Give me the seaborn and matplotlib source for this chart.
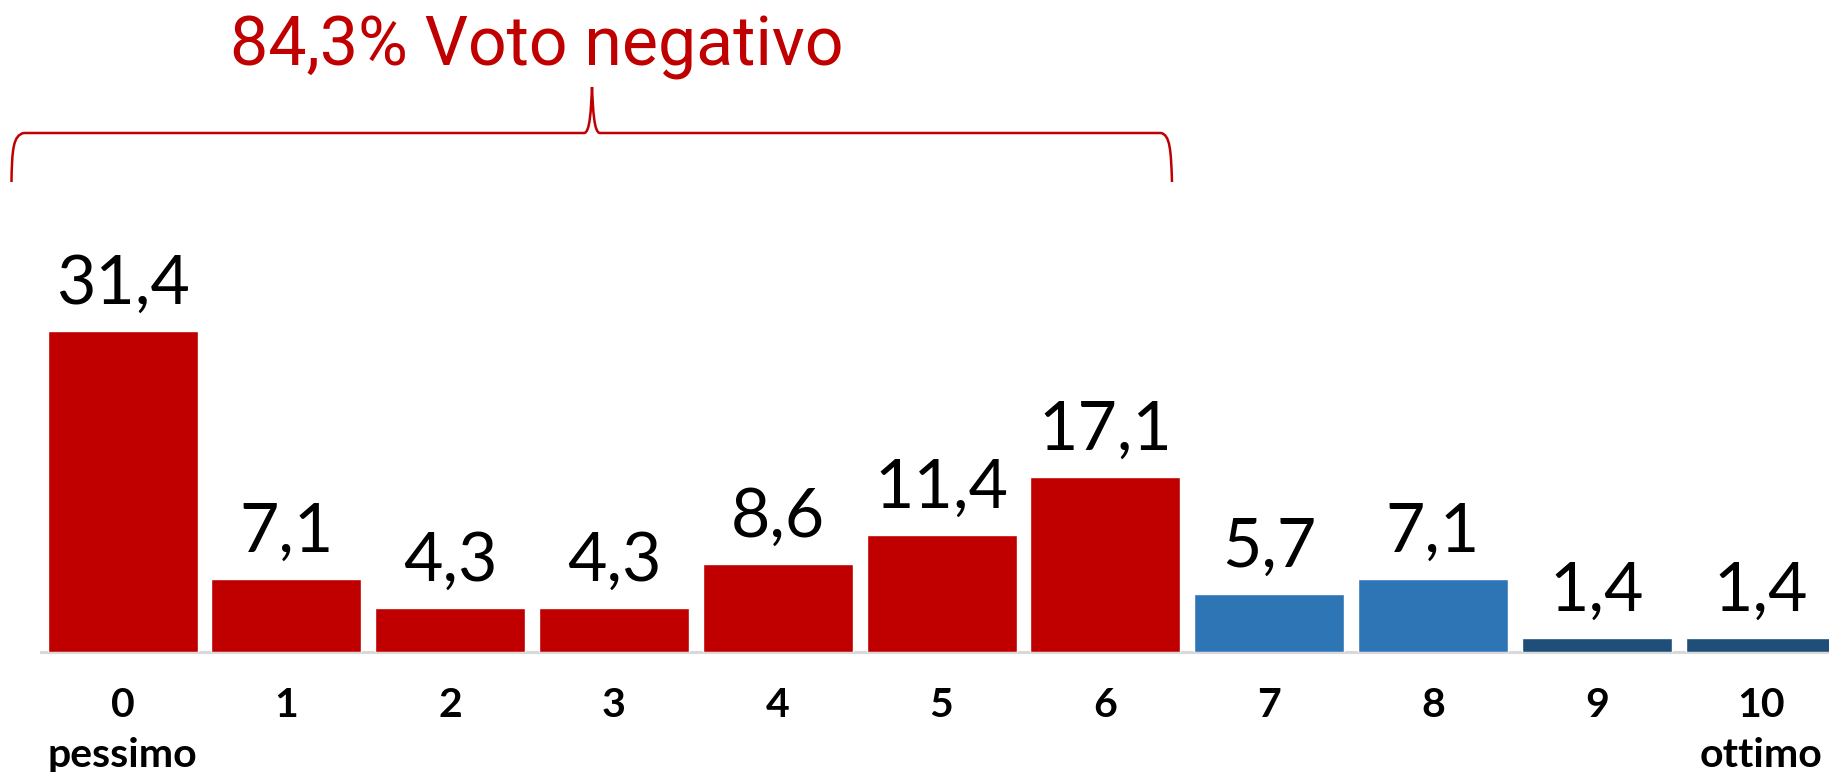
import matplotlib
matplotlib.use("Agg")
import numpy as np
import pandas as pd
import matplotlib.pyplot as plt
import seaborn as sns
from matplotlib.path import Path
from matplotlib.patches import PathPatch
from matplotlib.transforms import Affine2D

# Voti da 0 (pessimo) a 10 (ottimo), percentuali
scores = ["0", "1", "2", "3", "4", "5", "6", "7", "8", "9", "10"]
percentages = [31.4, 7.1, 4.3, 4.3, 8.6, 11.4, 17.1, 5.7, 7.1, 1.4, 1.4]
tick_labels = ["0\npessimo", "1", "2", "3", "4", "5", "6", "7", "8", "9", "10\nottimo"]
headline = "84,3% Voto negativo"

RED = "#C00000"
BLUE = "#2E75B6"
NAVY = "#1F4E79"
AXIS_GREY = "#D9D9D9"
bar_colors = [RED] * 7 + [BLUE] * 2 + [NAVY] * 2

sns.set_style("white")
plt.rcParams["font.family"] = ["Lato", "DejaVu Sans"]

W, H = 1829, 772
fig = plt.figure(figsize=(W / 100, H / 100), dpi=100)
ax = fig.add_axes([40.7 / W, 120 / H, 1801.8 / W, 652 / H])

df = pd.DataFrame({"score": scores, "pct": percentages})
sns.barplot(data=df, x="score", y="pct", hue="score",
            palette=dict(zip(scores, bar_colors)), saturation=1,
            width=0.916, legend=False, ax=ax)

ax.set_xlim(-0.5, 10.5)
ax.set_ylim(0, 63.7)
ax.set_xlabel("")
ax.set_ylabel("")
ax.set_yticks([])

for side in ("left", "top", "right"):
    ax.spines[side].set_visible(False)
ax.spines["bottom"].set_color(AXIS_GREY)
ax.spines["bottom"].set_linewidth(2.2)
ax.spines["bottom"].set_zorder(0.5)

ax.set_xticks(range(len(scores)))
ax.set_xticklabels(tick_labels, fontsize=29.5, fontweight="bold", linespacing=1.42)
ax.tick_params(axis="x", which="major", length=0, pad=25.5, labelcolor="black")
ax.set_xticks(np.arange(-0.5, len(scores), 1), minor=True)
ax.tick_params(axis="x", which="minor", length=10, width=1.5,
               color=AXIS_GREY, direction="out")

for container in ax.containers:
    ax.bar_label(container, fmt=lambda v: f"{v:.1f}".replace(".", ","),
                 padding=11, fontsize=49, fontweight="normal", color="black")

# Titolo e parentesi graffa sopra i voti negativi (0-6)
fig.text(537 / W, 1 - 66 / H, headline, ha="center", va="baseline",
         color=RED, fontsize=49, fontweight="normal",
         family=["Roboto", "Liberation Sans"])

px = Affine2D().scale(1 / W, -1 / H).translate(0, 1) + fig.transFigure
verts = [
    (11.5, 182),
    (12, 150), (13, 135), (24, 133),
    (584, 133),
    (590, 133), (591, 110), (592, 87),
    (593, 110), (594, 133), (600, 133),
    (1161, 133),
    (1170, 135), (1171, 150), (1172, 182),
]
codes = [Path.MOVETO,
         Path.CURVE4, Path.CURVE4, Path.CURVE4,
         Path.LINETO,
         Path.CURVE4, Path.CURVE4, Path.CURVE4,
         Path.CURVE4, Path.CURVE4, Path.CURVE4,
         Path.LINETO,
         Path.CURVE4, Path.CURVE4, Path.CURVE4]
brace = PathPatch(Path(verts, codes), transform=px, fill=False,
                  edgecolor=RED, linewidth=1.8, clip_on=False)
fig.add_artist(brace)

fig.savefig("out.png", dpi=100)
